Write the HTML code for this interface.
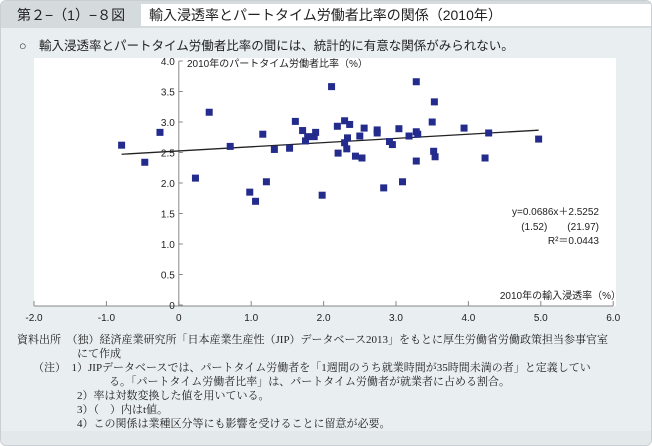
<!DOCTYPE html>
<html><head><meta charset="utf-8"><style>
body{margin:0;width:652px;height:446px;background:#fff;font-family:"Liberation Sans","Noto Sans CJK JP",sans-serif;overflow:hidden}
#wrap{position:absolute;left:0;top:0;width:650px;height:444px;border:1px solid #c9cfd2;border-radius:6px;background:#e9eef0;overflow:hidden}
#tbar{position:absolute;left:0;top:0;width:650px;height:27px;background:#d5dadc}
#tlabel{position:absolute;left:16px;top:4px;font-size:14px;color:#222}
#ttitle{position:absolute;left:140px;top:3px;width:508px;height:22px;background:#fff;font-size:14px;color:#222;padding-left:8px;line-height:22px;border-radius:0 4px 0 0}
#sub{position:absolute;left:18px;top:34px;font-size:12.5px;color:#222}
#notes{position:absolute;left:16px;top:332px;font-family:"Liberation Serif","Noto Serif CJK SC",serif;font-size:11px;color:#222;line-height:14px;white-space:nowrap}
#notes div{height:14px}
#foot{position:absolute;left:0;top:430px;width:650px;height:16px;background:#e3e8ea}
</style></head><body>
<div id="wrap">
<div id="tbar"><span id="tlabel">第２−（1）−８図</span>
<div id="ttitle">輸入浸透率とパートタイム労働者比率の関係（2010年）</div></div>
<div id="sub">○　輸入浸透率とパートタイム労働者比率の間には、統計的に有意な関係がみられない。</div>
<svg id="chart" width="652" height="330" style="position:absolute;left:0;top:0"></svg>
<div id="foot"></div>
<div id="notes">
<div>資料出所　（独）経済産業研究所「日本産業生産性（JIP）データベース2013」をもとに厚生労働省労働政策担当参事官室</div>
<div style="padding-left:60px">にて作成</div>
<div style="padding-left:16px">（注）　1）JIPデータベースでは、パートタイム労働者を「1週間のうち就業時間が35時間未満の者」と定義してい</div>
<div style="padding-left:92px">る。「パートタイム労働者比率」は、パートタイム労働者が就業者に占める割合。</div>
<div style="padding-left:60px">2）率は対数変換した値を用いている。</div>
<div style="padding-left:60px">3）（　）内はt値。</div>
<div style="padding-left:60px">4）この関係は業種区分等にも影響を受けることに留意が必要。</div>
</div>
</div>
<script>
const xVals=[-0.79,-0.47,-0.26,0.23,0.42,0.71,0.98,1.06,1.16,1.21,1.32,1.53,1.61,1.71,1.75,1.78,1.87,1.89,1.98,2.11,2.19,2.20,2.29,2.36,2.33,2.29,2.32,2.44,2.53,2.50,2.56,2.74,2.74,2.83,2.91,2.95,3.04,3.09,3.18,3.28,3.28,3.30,3.28,3.50,3.53,3.52,3.54,3.94,4.28,4.23,4.97];
const yVals=[2.62,2.34,2.83,2.08,3.16,2.60,1.85,1.70,2.80,2.02,2.55,2.57,3.01,2.86,2.69,2.76,2.76,2.83,1.80,3.58,2.93,2.49,3.02,2.96,2.74,2.66,2.56,2.44,2.41,2.77,2.90,2.87,2.82,1.92,2.68,2.63,2.89,2.02,2.77,3.66,2.84,2.80,2.36,3.00,3.33,2.52,2.43,2.90,2.82,2.41,2.72];
const xTicks=[-2,-1,0,1,2,3,4,5,6];
const xTickLabels=["-2.0","-1.0","0","1.0","2.0","3.0","4.0","5.0","6.0"];
const yTicks=[0,0.5,1,1.5,2,2.5,3,3.5,4];
const yTickLabels=["0","0.5","1.0","1.5","2.0","2.5","3.0","3.5","4.0"];
const slope=[0.0686], intercept=[2.5252];
const svg=document.getElementById('chart');const NS='http://www.w3.org/2000/svg';
const X=v=>177.8+v*72.4, Y=v=>304-v*61;
function mk(t,a,p){const e=document.createElementNS(NS,t);for(const k in a)e.setAttribute(k,a[k]);(p||svg).appendChild(e);return e;}
let bg=mk('rect',{x:33,y:57,width:582,height:248,fill:'#fff'});


let xa=mk('line',{x1:33,y1:305,x2:612,y2:305,stroke:'#888','stroke-width':1});


let ya=mk('line',{x1:X(0),y1:Y(4),x2:X(0),y2:305,stroke:'#888','stroke-width':1});


xTicks.forEach((v,i)=>{mk('line',{x1:X(v),y1:305,x2:X(v),y2:300,stroke:'#888'});
const t=mk('text',{x:X(v),y:320,'font-size':10,'text-anchor':'middle',fill:'#222'});t.textContent=xTickLabels[i];

});
yTicks.forEach((v,i)=>{mk('line',{x1:X(0),y1:Y(v),x2:X(0)+4,y2:Y(v),stroke:'#888'});
const t=mk('text',{x:X(0)-4,y:Y(v)+4,'font-size':10,'text-anchor':'end',fill:'#222'});t.textContent=yTickLabels[i];

});
const minX=Math.min(...xVals),maxX=Math.max(...xVals);
let tl=mk('line',{x1:X(minX),y1:Y(slope[0]*minX+intercept[0]),x2:X(maxX),y2:Y(slope[0]*maxX+intercept[0]),stroke:'#222','stroke-width':1.3});


xVals.forEach((x,i)=>{const r=mk('rect',{x:X(x)-3.5,y:Y(yVals[i])-3.5,width:7,height:7,fill:'#232b8c'});

});
function txt(s,x,y,name,anchor){const t=mk('text',{x:x,y:y,'font-size':10,fill:'#222','text-anchor':anchor||'start'});t.textContent=s;

}
txt('2010年のパートタイム労働者比率（%）',186,66,'y-axis-title');
txt('2010年の輸入浸透率（%）',620,298,'x-axis-title','end');
txt('y=0.0686x＋2.5252',598,214,'regression-equation','end');
txt('(1.52)　　(21.97)',598,229,'t-values','end');
txt('R²＝0.0443',598,243,'r-squared','end');
</script>
</body></html>
